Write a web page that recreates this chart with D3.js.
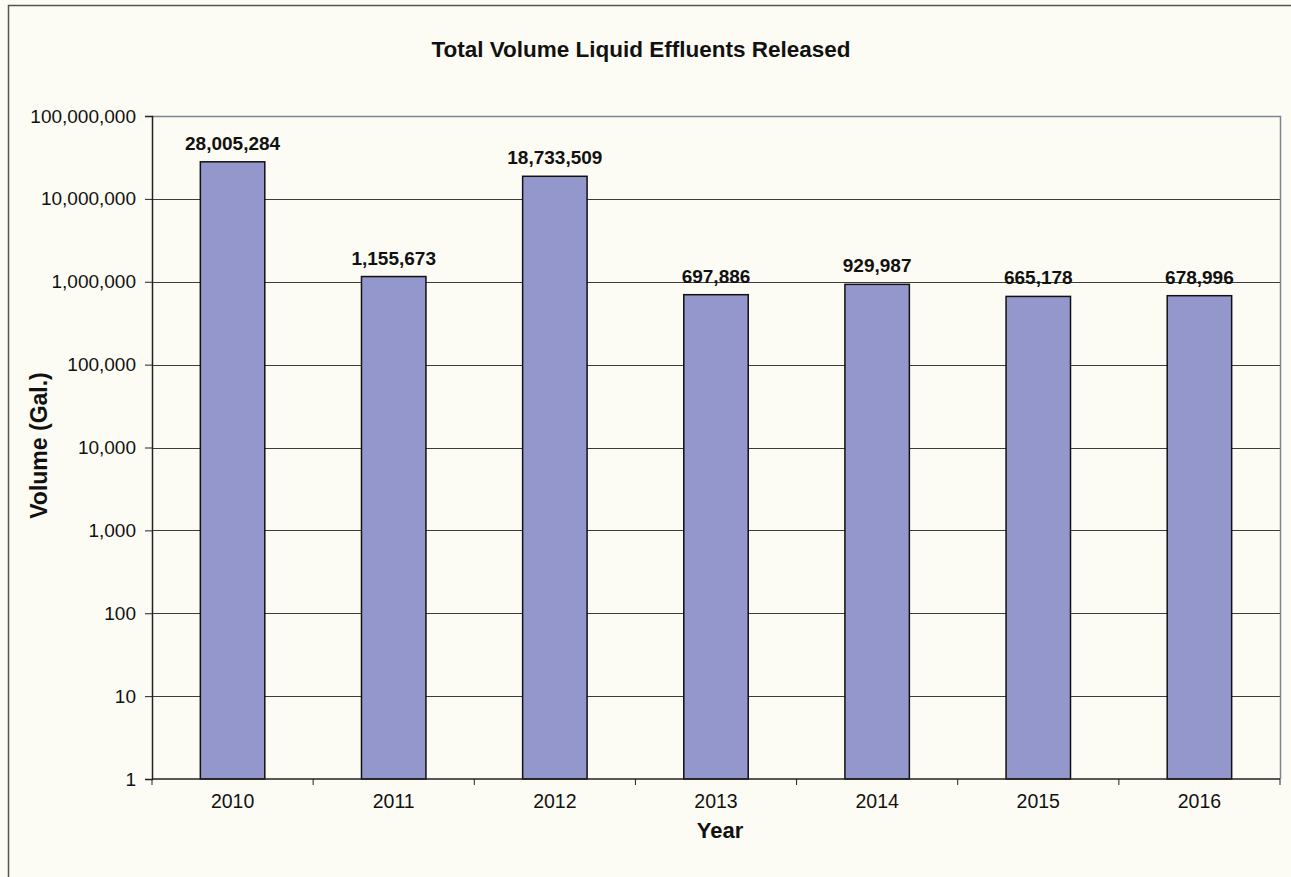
<!DOCTYPE html>
<html>
<head>
<meta charset="utf-8">
<script src="https://cdn.jsdelivr.net/npm/d3@7"></script>
<style>
  body { margin: 0; background: #fdfcf4; overflow: hidden; }
  svg { display: block; }
  text { font-family: "Liberation Sans", Arial, sans-serif; fill: #111; }
</style>
</head>
<body>
<script>
// data
const years = ["2010", "2011", "2012", "2013", "2014", "2015", "2016"];
const volumes = [28005284, 1155673, 18733509, 697886, 929987, 665178, 678996];
const yTicks = [1, 10, 100, 1000, 10000, 100000, 1000000, 10000000, 100000000];

const width = 1291;
const height = 877;
const plot = { left: 152, right: 1280, top: 116, bottom: 779 };

const svg = d3.select("body")
    .append("svg")
    .attr("width", width)
    .attr("height", height);

// page background and outer frame
svg.append("rect")
    .attr("width", width)
    .attr("height", height)
    .attr("fill", "#fdfcf4");

svg.append("path")
    .attr("d", `M8.5,${height} V5.5 H${width}`)
    .attr("fill", "none")
    .attr("stroke", "#555")
    .attr("stroke-width", 1.5);

// scales
const x = d3.scaleBand()
    .domain(years)
    .range([plot.left, plot.right])
    .paddingInner(0.6)
    .paddingOuter(0.3);

const y = d3.scaleLog()
    .domain([1, 1e8])
    .range([plot.bottom, plot.top]);

const fmt = d3.format(",");

// grid lines
svg.append("g")
    .selectAll("line")
    .data(yTicks.slice(1, -1))
    .join("line")
    .attr("x1", plot.left)
    .attr("x2", plot.right)
    .attr("y1", d => Math.round(y(d)) + 0.5)
    .attr("y2", d => Math.round(y(d)) + 0.5)
    .attr("stroke", "#3c3c3c")
    .attr("stroke-width", 1);

// plot border (top and right)
svg.append("path")
    .attr("d", `M${plot.left},${plot.top + 0.5} H${plot.right + 0.5} V${plot.bottom}`)
    .attr("fill", "none")
    .attr("stroke", "#7d8594")
    .attr("stroke-width", 1.5);

// bars
svg.append("g")
    .selectAll("rect")
    .data(volumes)
    .join("rect")
    .attr("x", (d, i) => x(years[i]))
    .attr("y", d => y(d))
    .attr("width", x.bandwidth())
    .attr("height", d => plot.bottom - y(d))
    .attr("fill", "#9397cc")
    .attr("stroke", "#111")
    .attr("stroke-width", 1.5);

// value labels
svg.append("g")
    .selectAll("text")
    .data(volumes)
    .join("text")
    .attr("x", (d, i) => x(years[i]) + x.bandwidth() / 2)
    .attr("y", d => y(d) - 12)
    .attr("text-anchor", "middle")
    .attr("font-size", 19)
    .attr("font-weight", "bold")
    .text(d => fmt(d));

// y axis
const yAxis = svg.append("g")
    .attr("transform", `translate(${plot.left},0)`)
    .call(d3.axisLeft(y)
        .tickValues(yTicks)
        .tickFormat(fmt)
        .tickSizeOuter(0)
        .tickSize(7)
        .tickPadding(9));

yAxis.select(".domain").attr("stroke", "#222").attr("stroke-width", 1.5);
yAxis.selectAll(".tick line").attr("stroke", "#222");
yAxis.selectAll(".tick text")
    .attr("font-size", 19)
    .attr("font-family", "Liberation Sans, Arial, sans-serif")
    .attr("fill", "#111");

// x axis, ticks between categories
const xAxis = svg.append("g")
    .attr("transform", `translate(0,${plot.bottom})`);

xAxis.append("line")
    .attr("x1", plot.left)
    .attr("x2", plot.right)
    .attr("stroke", "#222")
    .attr("stroke-width", 1.5);

const boundaries = d3.range(years.length + 1).map(i => plot.left + i * x.step());
xAxis.selectAll(".xtick")
    .data(boundaries)
    .join("line")
    .attr("class", "xtick")
    .attr("x1", d => d)
    .attr("x2", d => d)
    .attr("y1", 0)
    .attr("y2", 6)
    .attr("stroke", "#222");

xAxis.selectAll(".xlab")
    .data(years)
    .join("text")
    .attr("class", "xlab")
    .attr("x", d => x(d) + x.bandwidth() / 2)
    .attr("y", 29)
    .attr("text-anchor", "middle")
    .attr("font-size", 19.5)
    .text(d => d);

// titles
svg.append("text")
    .attr("x", 641)
    .attr("y", 57)
    .attr("text-anchor", "middle")
    .attr("font-size", 22.5)
    .attr("font-weight", "bold")
    .text("Total Volume Liquid Effluents Released");

svg.append("text")
    .attr("x", 720)
    .attr("y", 838)
    .attr("text-anchor", "middle")
    .attr("font-size", 22)
    .attr("font-weight", "bold")
    .text("Year");

svg.append("text")
    .attr("transform", `translate(47,${(plot.top + plot.bottom) / 2 - 2}) rotate(-90)`)
    .attr("text-anchor", "middle")
    .attr("font-size", 23)
    .attr("font-weight", "bold")
    .text("Volume (Gal.)");
</script>
</body>
</html>
